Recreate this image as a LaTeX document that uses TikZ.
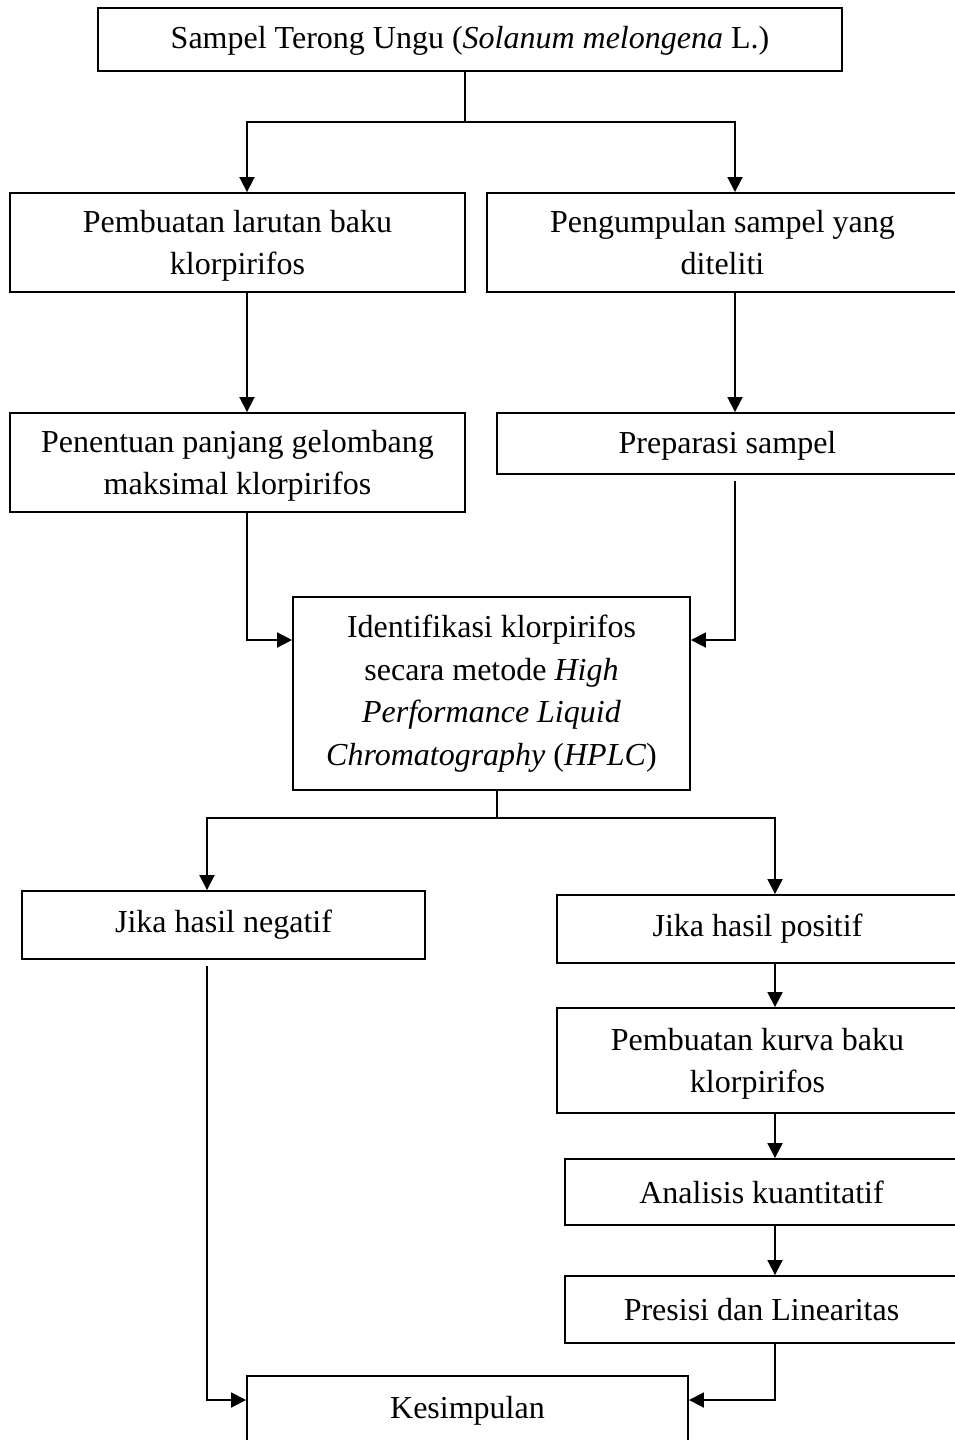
\documentclass[tikz,border=0pt]{standalone}
\usepackage{fontspec}
\setmainfont{Liberation Serif}
\usetikzlibrary{arrows.meta}

\tikzset{
  kotak/.style={draw, line width=1.9pt, inner sep=0pt, align=center},
  duabaris/.style={text depth=-5pt},
  panah/.style={line width=1.9pt, -{Triangle[length=15pt,width=15pt]}},
  garis/.style={line width=1.9pt}
}

\begin{document}
\begin{tikzpicture}[x=1pt,y=-1pt,font=\fontsize{32}{42.5}\selectfont]
                \useasboundingbox (0,0) rectangle (955,1440);
                \node[kotak, minimum width=744pt, minimum height=63pt, text depth=4pt] (sampel) at (470,39.5) {Sampel Terong Ungu (\textit{Solanum melongena} L.)};
                \node[kotak, duabaris, minimum width=455pt, minimum height=99pt] (larutan) at (237.5,242.5) {Pembuatan larutan baku\\klorpirifos};
                \node[kotak, duabaris, minimum width=471pt, minimum height=99pt, text depth=-6pt] (kumpul) at (722.5,242.5) {Pengumpulan sampel yang\\diteliti};
                \node[kotak, duabaris, minimum width=455pt, minimum height=99pt] (lamda) at (237.5,462.5) {Penentuan panjang gelombang\\maksimal klorpirifos};
                \node[kotak, minimum width=461pt, minimum height=61pt, text depth=3pt] (preparasi) at (727.5,443.5) {Preparasi sampel};
                \node[kotak, minimum width=397pt, minimum height=193pt] (hplc) at (491.5,693.5) {Identifikasi klorpirifos\\secara metode \textit{High}\\\textit{Performance Liquid}\\\textit{Chromatography} (\textit{HPLC})};
                \node[kotak, minimum width=403pt, minimum height=68pt] (negatif) at (223.5,925) {Jika hasil negatif};
                \node[kotak, minimum width=401pt, minimum height=68pt] (positif) at (757.5,929) {Jika hasil positif};
                \node[kotak, duabaris, minimum width=401pt, minimum height=105pt] (kurva) at (757.5,1060.5) {Pembuatan kurva baku\\klorpirifos};
                \node[kotak, minimum width=393pt, minimum height=66pt] (analisis) at (761.5,1192) {Analisis kuantitatif};
                \node[kotak, minimum width=393pt, minimum height=67pt] (presisi) at (761.5,1309.5) {Presisi dan Linearitas};
                \node[kotak, minimum width=441pt, minimum height=70pt] (kesimpulan) at (467.5,1411) {Kesimpulan};
                \coordinate (cabang1) at (465,122);
                \coordinate (cabang2) at (497,818);
                \coordinate (kolA) at (247,0);
                \coordinate (kolB) at (735,0);
                \coordinate (kolN) at (207,0);
                \coordinate (kolP) at (775,0);
                \coordinate (barisH) at (0,640);
                \coordinate (barisK) at (0,1400);
                \draw[garis] (cabang1 |- sampel.south) -- (cabang1);
                \draw[panah] (cabang1) -| (kolA |- larutan.north);
                \draw[panah] (cabang1) -| (kolB |- kumpul.north);
                \draw[panah] (kolA |- larutan.south) -- (kolA |- lamda.north);
                \draw[panah] (kolB |- kumpul.south) -- (kolB |- preparasi.north);
                \draw[panah] (kolA |- lamda.south) |- (hplc.west |- barisH);
                \draw[panah] ([yshift=-6pt]kolB |- preparasi.south) |- (hplc.east |- barisH);
                \draw[garis] (cabang2 |- hplc.south) -- (cabang2);
                \draw[panah] (cabang2) -| (kolN |- negatif.north);
                \draw[panah] (cabang2) -| (kolP |- positif.north);
                \draw[panah] (kolP |- positif.south) -- (kolP |- kurva.north);
                \draw[panah] (kolP |- kurva.south) -- (kolP |- analisis.north);
                \draw[panah] (kolP |- analisis.south) -- (kolP |- presisi.north);
                \draw[panah] ([yshift=-6pt]kolN |- negatif.south) |- (kesimpulan.west |- barisK);
                \draw[panah] (kolP |- presisi.south) |- (kesimpulan.east |- barisK);
            \end{tikzpicture}
\end{document}
